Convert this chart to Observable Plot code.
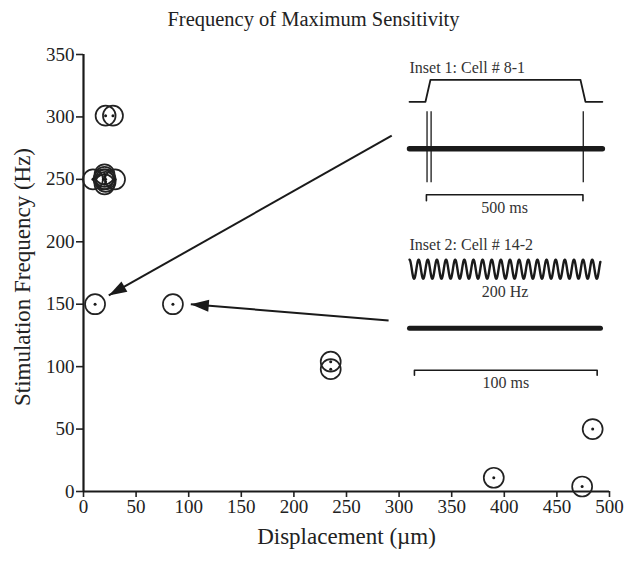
<!DOCTYPE html>
<html><head><meta charset="utf-8">
<script src="https://cdn.jsdelivr.net/npm/d3@7"></script>
<script src="https://cdn.jsdelivr.net/npm/@observablehq/plot@0.6"></script>
<style>
body{margin:0;background:#fff;}
#wrap{position:relative;width:627px;height:561px;font-family:"Liberation Serif",serif;color:#222;background:#fff;}
#title{height:36px;line-height:38px;text-align:center;font-size:20.5px;color:#222;}
</style></head><body>
<div id="wrap"><div id="title">Frequency of Maximum Sensitivity</div></div>
<script>
// ---- main data ----
const displacement = [9, 30, 20, 20, 21, 21, 20, 19, 21, 28, 11, 85, 235, 235, 390, 474, 484];
const frequency    = [250, 250, 254, 252, 250, 248, 246, 250, 301, 301, 150, 150, 104, 98, 11, 4, 50];
const xTicks = [0, 50, 100, 150, 200, 250, 300, 350, 400, 450, 500];
const yTicks = [0, 50, 100, 150, 200, 250, 300, 350];
const xLabel = "Displacement (µm)";
const yLabel = "Stimulation Frequency (Hz)";
// arrows (from inset to point), data coordinates
const arrowFromX = [293, 290];
const arrowFromY = [285, 137];
const arrowToX = [24, 102];
const arrowToY = [157, 150];
// ---- inset 1 (step stimulus, 500 ms) ----
const inset1Label = "Inset 1: Cell # 8-1";
const inset1StimT = [0, 51, 67, 546, 562, 616];
const inset1StimOn = [0, 0, 1, 1, 0, 0];
const inset1SpikeT = [56, 69, 555];
const inset1BarStart = 54, inset1BarMs = 500, inset1DurationMs = 616;
const inset1BarLabel = "500 ms";
// ---- inset 2 (sinusoid 200 Hz, 100 ms) ----
const inset2Label = "Inset 2: Cell # 14-2";
const inset2FreqHz = 200, inset2DurationMs = 104.5;
const inset2BarStart = 2.7, inset2BarMs = 100;
const inset2FreqLabel = "200 Hz";
const inset2BarLabel = "100 ms";

const wrap = document.getElementById("wrap");
const pts = displacement.map((d, i) => ({x: d, y: frequency[i]}));
const arrows = arrowFromX.map((d, i) => ({x1: d, y1: arrowFromY[i], x2: arrowToX[i], y2: arrowToY[i]}));
const ink = "#1a1a1a";
const serif = '"Liberation Serif", serif';

const main = Plot.plot({
  width: 627, height: 525,
  marginTop: 18, marginBottom: 70, marginLeft: 83, marginRight: 18,
  style: {fontFamily: serif, fontSize: "19px", color: "#222", background: "transparent", overflow: "visible"},
  x: {domain: [0, 500]},
  y: {domain: [0, 350]},
  marks: [
    Plot.axisX({ticks: xTicks, tickSize: 6, tickPadding: 2, label: null, strokeWidth: 1.6, fontSize: 19}),
    Plot.axisY({ticks: yTicks, tickSize: 7, tickPadding: 2, label: null, strokeWidth: 1.6, fontSize: 19}),
    Plot.ruleX([0], {stroke: ink, strokeWidth: 2.2}),
    Plot.ruleY([0], {stroke: ink, strokeWidth: 2.2}),
    Plot.dot(pts, {x: "x", y: "y", r: 10, stroke: "#222", strokeWidth: 1.7, fill: "none"}),
    Plot.dot(pts, {x: "x", y: "y", r: 1.5, fill: ink, stroke: null}),
    Plot.link(arrows, {x1: "x1", y1: "y1", x2: "x2", y2: "y2", stroke: ink, strokeWidth: 2}),
    Plot.text([xLabel], {frameAnchor: "bottom", dy: 52, fontSize: 23}),
    Plot.text([yLabel], {frameAnchor: "left", textAnchor: "middle", dx: -61, dy: 4, rotate: -90, fontSize: 23})
  ]
});
wrap.appendChild(main);
// filled arrow heads
{
  const svg = d3.select(main);
  svg.append("defs").append("marker")
    .attr("id", "ah").attr("viewBox", "-19 -7 20 14")
    .attr("markerWidth", 20).attr("markerHeight", 14)
    .attr("markerUnits", "userSpaceOnUse").attr("orient", "auto")
    .attr("refX", 0).attr("refY", 0)
    .append("path").attr("d", "M0,0L-18,-6L-18,6Z").attr("fill", ink);
  svg.selectAll('g[aria-label="link"] path').attr("marker-end", "url(#ah)");
}

function inset({left, top, width, height, xDomain, yDomain, marks}) {
  const p = Plot.plot({
    width, height, margin: 0,
    x: {domain: xDomain, axis: null}, y: {domain: yDomain, axis: null},
    style: {fontFamily: serif, fontSize: "16px", color: "#333", background: "transparent", overflow: "visible"},
    marks
  });
  p.style.position = "absolute";
  p.style.left = left + "px";
  p.style.top = top + "px";
  wrap.appendChild(p);
}
const fs = 16;

// Inset 1: vertical units in px relative to recording trace
const stim1 = inset1StimT.map((t, i) => ({t, v: 47 + 22 * inset1StimOn[i]}));
inset({
  left: 405, top: 55, width: 205, height: 160,
  xDomain: [-12.8, 642], yDomain: [-66.7, 93.3],
  marks: [
    Plot.text([inset1Label], {x: 0, y: 81, textAnchor: "start", fontSize: fs, fill: "#333"}),
    Plot.line(stim1, {x: "t", y: "v", stroke: ink, strokeWidth: 1.8}),
    Plot.line([0, inset1DurationMs], {x: d => d, y: 0, stroke: ink, strokeWidth: 5.5}),
    Plot.ruleX(inset1SpikeT, {x: d => d, y1: -34, y2: 37, stroke: ink, strokeWidth: 1.3}),
    Plot.line([inset1BarStart, inset1BarStart, inset1BarStart + inset1BarMs, inset1BarStart + inset1BarMs],
      {x: d => d, y: (d, i) => (i === 0 || i === 3) ? -52 : -46, stroke: ink, strokeWidth: 1.6}),
    Plot.text([inset1BarLabel], {x: inset1BarStart + inset1BarMs / 2, y: -59, fontSize: fs, fill: "#333"})
  ]
});

// Inset 2
const sine = d3.range(0, inset2DurationMs, 0.05).map(t => ({t, v: 59 + 9.5 * Math.cos(2 * Math.PI * inset2FreqHz * t / 1000)}));
inset({
  left: 405, top: 230, width: 205, height: 165,
  xDomain: [-2.19, 110], yDomain: [-67.3, 97.7],
  marks: [
    Plot.text([inset2Label], {x: 0, y: 83, textAnchor: "start", fontSize: fs, fill: "#333"}),
    Plot.line(sine, {x: "t", y: "v", stroke: ink, strokeWidth: 2.4}),
    Plot.text([inset2FreqLabel], {x: inset2DurationMs / 2, y: 36, fontSize: fs, fill: "#333"}),
    Plot.line([0, inset2DurationMs], {x: d => d, y: 0, stroke: ink, strokeWidth: 5}),
    Plot.line([inset2BarStart, inset2BarStart, inset2BarStart + inset2BarMs, inset2BarStart + inset2BarMs],
      {x: d => d, y: (d, i) => (i === 0 || i === 3) ? -47 : -42, stroke: ink, strokeWidth: 1.6}),
    Plot.text([inset2BarLabel], {x: inset2BarStart + inset2BarMs / 2, y: -55, fontSize: fs, fill: "#333"})
  ]
});
</script>
</body></html>
